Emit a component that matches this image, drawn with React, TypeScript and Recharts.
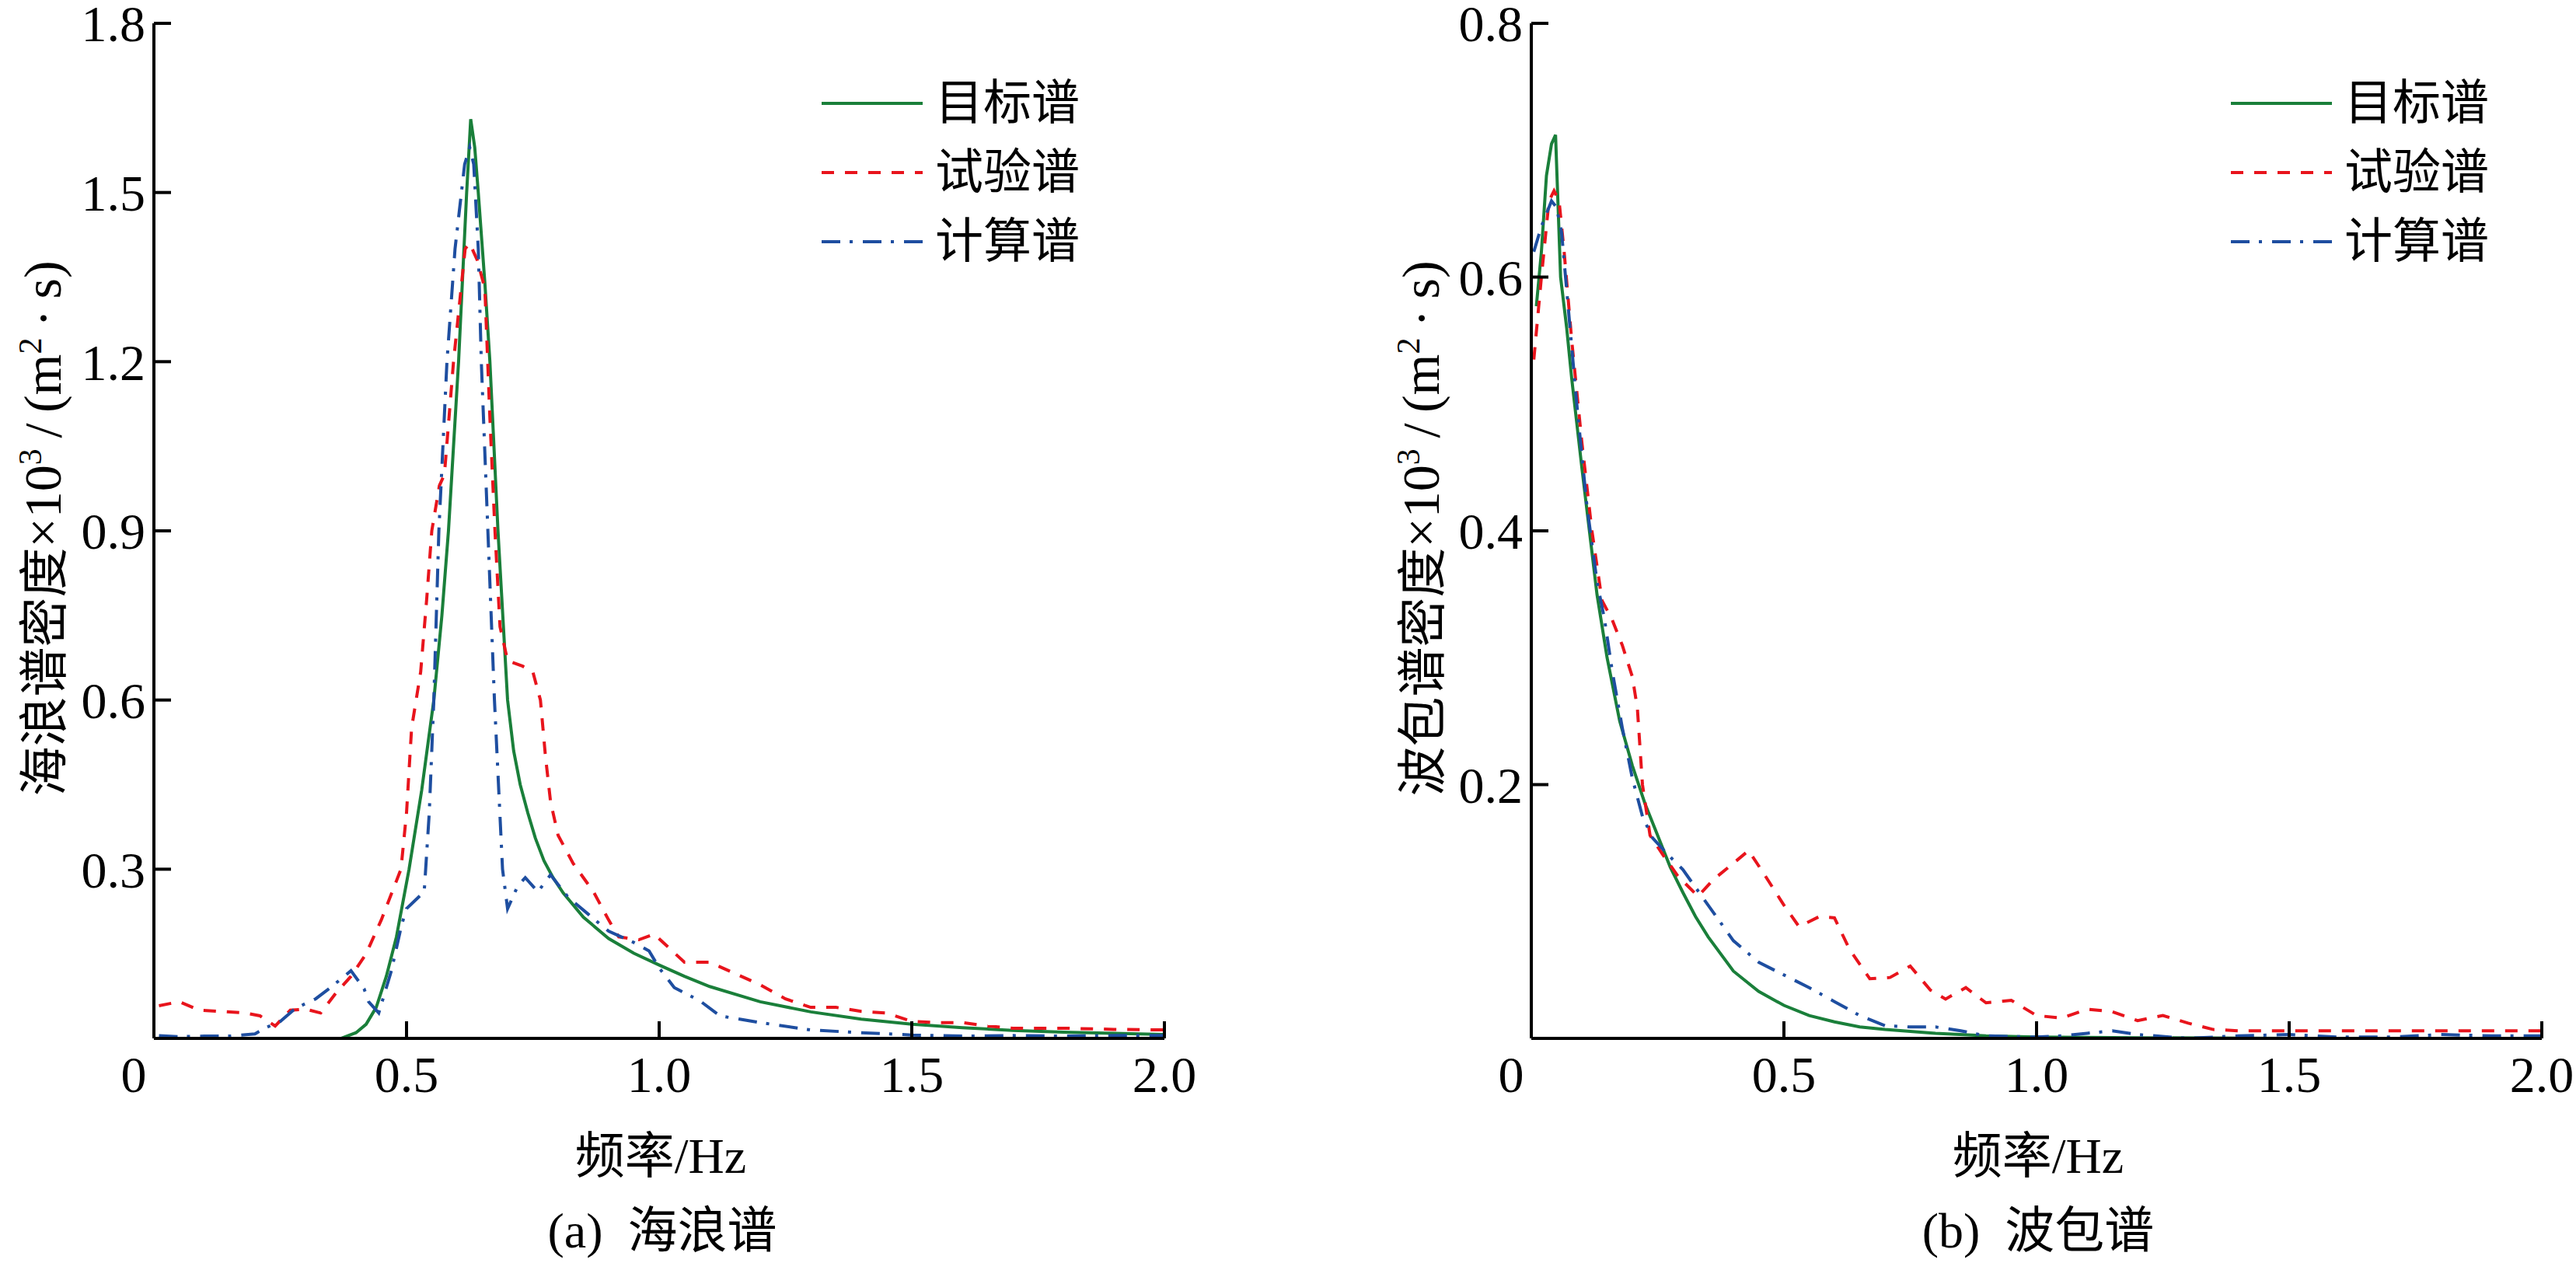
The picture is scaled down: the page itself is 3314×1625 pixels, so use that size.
import React from "react"
import { LineChart, Line, XAxis, YAxis } from "recharts"

// frequency (Hz) / spectral density pairs

// (a) sea wave spectrum
const seaTargetF = [0.01, 0.1, 0.2, 0.3, 0.37, 0.4, 0.42, 0.44, 0.46, 0.48, 0.505, 0.53, 0.554, 0.57, 0.583, 0.603, 0.619, 0.627, 0.635, 0.642, 0.655, 0.665, 0.681, 0.7, 0.712, 0.725, 0.74, 0.755, 0.772, 0.79, 0.81, 0.85, 0.9, 0.95, 1.0, 1.05, 1.1, 1.2, 1.3, 1.4, 1.5, 1.6, 1.7, 1.8, 1.9, 2.0]
const seaTargetS = [0, 0, 0, 0, 0, 0.01, 0.025, 0.055, 0.11, 0.18, 0.3, 0.44, 0.6, 0.75, 0.9, 1.2, 1.5, 1.63, 1.58, 1.5, 1.34, 1.2, 0.9, 0.6, 0.51, 0.45, 0.4, 0.355, 0.315, 0.285, 0.258, 0.215, 0.177, 0.151, 0.13, 0.11, 0.092, 0.065, 0.047, 0.034, 0.025, 0.019, 0.014, 0.011, 0.009, 0.007]

const seaTestF = [0.01, 0.05, 0.09, 0.13, 0.18, 0.21, 0.24, 0.27, 0.3, 0.33, 0.36, 0.39, 0.42, 0.45, 0.489, 0.5, 0.51, 0.528, 0.54, 0.55, 0.565, 0.575, 0.593, 0.616, 0.625, 0.64, 0.655, 0.665, 0.675, 0.685, 0.7, 0.73, 0.75, 0.765, 0.775, 0.785, 0.8, 0.83, 0.87, 0.9, 0.92, 0.96, 0.99, 1.02, 1.05, 1.1, 1.15, 1.2, 1.25, 1.3, 1.35, 1.4, 1.45, 1.5, 1.55, 1.6, 1.65, 1.7, 1.8, 1.9, 2.0]
const seaTestS = [0.058, 0.065, 0.05, 0.048, 0.045, 0.04, 0.022, 0.05, 0.052, 0.045, 0.08, 0.11, 0.15, 0.21, 0.3, 0.4, 0.55, 0.65, 0.78, 0.9, 0.98, 1.0, 1.2, 1.4, 1.41, 1.38, 1.33, 1.1, 0.9, 0.73, 0.67, 0.66, 0.65, 0.6, 0.5, 0.42, 0.36, 0.31, 0.26, 0.21, 0.18, 0.175, 0.185, 0.16, 0.135, 0.135, 0.115, 0.095, 0.07, 0.055, 0.055, 0.048, 0.045, 0.03, 0.028, 0.028, 0.022, 0.018, 0.018, 0.016, 0.015]

const seaCalcF = [0.01, 0.05, 0.1, 0.15, 0.2, 0.224, 0.25, 0.276, 0.296, 0.32, 0.345, 0.37, 0.39, 0.416, 0.425, 0.445, 0.46, 0.47, 0.49, 0.5, 0.535, 0.545, 0.554, 0.564, 0.58, 0.596, 0.615, 0.625, 0.633, 0.642, 0.648, 0.661, 0.674, 0.682, 0.69, 0.7, 0.72, 0.735, 0.76, 0.785, 0.82, 0.86, 0.9, 0.95, 0.98, 1.0, 1.03, 1.08, 1.12, 1.2, 1.3, 1.4, 1.5, 1.6, 1.7, 1.8, 1.9, 2.0]
const seaCalcS = [0.005, 0.003, 0.004, 0.004, 0.008, 0.02, 0.03, 0.05, 0.06, 0.07, 0.087, 0.105, 0.12, 0.088, 0.065, 0.045, 0.09, 0.12, 0.2, 0.23, 0.26, 0.4, 0.6, 0.9, 1.2, 1.4, 1.55, 1.58, 1.55, 1.4, 1.2, 0.9, 0.6, 0.45, 0.3, 0.23, 0.27, 0.285, 0.26, 0.29, 0.25, 0.22, 0.19, 0.17, 0.155, 0.125, 0.09, 0.067, 0.04, 0.028, 0.015, 0.01, 0.006, 0.004, 0.005, 0.004, 0.005, 0.005]

// (b) wave packet spectrum
const packTargetF = [0.01, 0.02, 0.03, 0.04, 0.048, 0.058, 0.07, 0.08, 0.1, 0.115, 0.13, 0.15, 0.175, 0.2, 0.225, 0.25, 0.275, 0.3, 0.325, 0.35, 0.4, 0.45, 0.5, 0.55, 0.6, 0.65, 0.7, 0.8, 0.9, 1.0, 1.2, 1.5, 2.0]
const packTargetS = [0.577, 0.62, 0.68, 0.705, 0.712, 0.6, 0.56, 0.52, 0.45, 0.4, 0.35, 0.3, 0.25, 0.215, 0.185, 0.16, 0.135, 0.115, 0.096, 0.08, 0.053, 0.037, 0.026, 0.018, 0.013, 0.009, 0.007, 0.004, 0.002, 0.001, 0.0005, 0, 0]

const packTestF = [0.005, 0.02, 0.035, 0.045, 0.055, 0.065, 0.08, 0.1, 0.12, 0.14, 0.16, 0.18, 0.2, 0.21, 0.22, 0.235, 0.26, 0.29, 0.33, 0.36, 0.4, 0.43, 0.46, 0.5, 0.53, 0.57, 0.6, 0.63, 0.67, 0.71, 0.75, 0.79, 0.82, 0.86, 0.9, 0.95, 1.0, 1.05, 1.1, 1.15, 1.2, 1.25, 1.3, 1.35, 1.4, 1.5, 1.6, 1.7, 1.8, 1.9, 2.0]
const packTestS = [0.535, 0.6, 0.66, 0.668, 0.66, 0.62, 0.55, 0.47, 0.4, 0.345, 0.33, 0.31, 0.285, 0.26, 0.2, 0.16, 0.145, 0.128, 0.112, 0.125, 0.138, 0.148, 0.13, 0.105, 0.088, 0.096, 0.095, 0.07, 0.047, 0.048, 0.057, 0.038, 0.031, 0.04, 0.028, 0.03, 0.018, 0.016, 0.023, 0.021, 0.014, 0.018, 0.012, 0.007, 0.006, 0.006, 0.006, 0.006, 0.006, 0.006, 0.006]

const packCalcF = [0.005, 0.02, 0.04, 0.05, 0.06, 0.07, 0.09, 0.11, 0.13, 0.145, 0.16, 0.18, 0.2, 0.22, 0.24, 0.27, 0.3, 0.35, 0.4, 0.45, 0.5, 0.55, 0.6, 0.65, 0.7, 0.75, 0.8, 0.85, 0.9, 1.0, 1.05, 1.1, 1.15, 1.2, 1.3, 1.4, 1.5, 1.6, 1.7, 1.8, 1.9, 2.0]
const packCalcS = [0.62, 0.64, 0.66, 0.655, 0.635, 0.59, 0.5, 0.42, 0.36, 0.33, 0.29, 0.245, 0.205, 0.175, 0.158, 0.145, 0.133, 0.105, 0.077, 0.06, 0.05, 0.04, 0.029, 0.018, 0.01, 0.009, 0.009, 0.006, 0.002, 0.001, 0.002, 0.004, 0.006, 0.003, 0, 0.002, 0.003, 0.001, 0.001, 0.003, 0.002, 0.002]

const xTicks = [0, 0.5, 1, 1.5, 2]
const seaTicks = [0.3, 0.6, 0.9, 1.2, 1.5, 1.8]
const packTicks = [0.2, 0.4, 0.6, 0.8]

const seriesNames = ["目标谱", "试验谱", "计算谱"]
const seriesColors = ["#1a7f3a", "#e8141c", "#1e4ea0"]
const seriesDash = ["", "16 14", "24 12 4 13"]

const zip = (f: number[], s: number[]) => f.map((v, i) => ({ f: v, s: s[i] }))

const serif = '"Liberation Serif", "Noto Sans CJK SC", serif'

function XTick({ x, y, payload }: any) {
  const v = payload.value
  return (
    <text x={v === 0 ? x - 26 : x} y={y} dy="0.71em" textAnchor="middle" fontFamily={serif} fontSize={66} fill="#000">
      {v === 0 ? "0" : v.toFixed(1)}
    </text>
  )
}

function YTick({ x, y, payload }: any) {
  return (
    <text x={x} y={y} dy="0.355em" textAnchor="end" fontFamily={serif} fontSize={66} fill="#000">
      {payload.value.toFixed(1)}
    </text>
  )
}

// svg is shifted up 40px so the top tick label is not clipped by its edge
function Panel({ series, ticks, max, yWidth }: { series: { f: number; s: number }[][]; ticks: number[]; max: number; yWidth: number }) {
  return (
    <LineChart width={yWidth + 1300 + 60} height={1625} margin={{ top: 70, right: 60, bottom: 149, left: 0 }}>
      <XAxis
        type="number"
        dataKey="f"
        domain={[0, 2]}
        ticks={xTicks}
        height={100}
        tickSize={-22}
        tickMargin={44}
        axisLine={{ stroke: "#000", strokeWidth: 4 }}
        tickLine={{ stroke: "#000", strokeWidth: 4 }}
        tick={<XTick />}
      />
      <YAxis
        type="number"
        domain={[0, max]}
        ticks={ticks}
        width={yWidth}
        tickSize={-22}
        tickMargin={33}
        axisLine={{ stroke: "#000", strokeWidth: 4 }}
        tickLine={{ stroke: "#000", strokeWidth: 4 }}
        tick={<YTick />}
      />
      {series.map((d, i) => (
        <Line
          key={seriesNames[i]}
          data={d}
          dataKey="s"
          type="linear"
          stroke={seriesColors[i]}
          strokeWidth={4}
          strokeDasharray={seriesDash[i] || undefined}
          dot={false}
          activeDot={false}
          isAnimationActive={false}
        />
      ))}
    </LineChart>
  )
}

function LegendBox({ left }: { left: number }) {
  return (
    <svg style={{ position: "absolute", left, top: 90 }} width={420} height={260}>
      {seriesNames.map((n, i) => (
        <g key={n}>
          <line x1={0} x2={130} y1={43 + i * 89} y2={43 + i * 89} stroke={seriesColors[i]} strokeWidth={4} strokeDasharray={seriesDash[i] || undefined} />
          <text x={146} y={43 + i * 89} dominantBaseline="central" fontFamily={serif} fontSize={62} fill="#000">
            {n}
          </text>
        </g>
      ))}
    </svg>
  )
}

const text: React.CSSProperties = { position: "absolute", fontFamily: serif, fontSize: 64, lineHeight: 1, whiteSpace: "nowrap", color: "#000" }
const sup: React.CSSProperties = { fontSize: 42, verticalAlign: "0.6em" }
const latin: React.CSSProperties = { fontSize: 68 }

function YLabel({ cx, name }: { cx: number; name: string }) {
  return (
    <div style={{ ...text, left: cx, top: 680, transform: "translate(-50%, -50%) rotate(-90deg)" }}>
      {name}
      <span style={latin}>
        ×10<span style={sup}>3</span>{"\u2009"}/{"\u2009"}(m<span style={sup}>2</span>{"\u2009"}·{"\u2009"}s)
      </span>
    </div>
  )
}

function Centered({ cx, cy, children }: { cx: number; cy: number; children: React.ReactNode }) {
  return <div style={{ ...text, left: cx, top: cy, transform: "translate(-50%, -50%)" }}>{children}</div>
}

export default function App() {
  return (
    <div style={{ position: "relative", width: 3314, height: 1625, background: "#fff", overflow: "hidden" }}>
      <style>{"body{margin:0}"}</style>
      <div style={{ position: "absolute", left: 0, top: -40 }}>
        <Panel series={[zip(seaTargetF, seaTargetS), zip(seaTestF, seaTestS), zip(seaCalcF, seaCalcS)]} ticks={seaTicks} max={1.8} yWidth={198} />
      </div>
      <div style={{ position: "absolute", left: 1650, top: -40 }}>
        <Panel series={[zip(packTargetF, packTargetS), zip(packTestF, packTestS), zip(packCalcF, packCalcS)]} ticks={packTicks} max={0.8} yWidth={320} />
      </div>
      <LegendBox left={1057} />
      <LegendBox left={2870} />
      <YLabel cx={54} name="海浪谱密度" />
      <YLabel cx={1827} name="波包谱密度" />
      <Centered cx={850} cy={1488}>频率/Hz</Centered>
      <Centered cx={2622} cy={1488}>频率/Hz</Centered>
      <Centered cx={852} cy={1584}>(a)&nbsp;&nbsp;海浪谱</Centered>
      <Centered cx={2622} cy={1584}>(b)&nbsp;&nbsp;波包谱</Centered>
    </div>
  )
}
